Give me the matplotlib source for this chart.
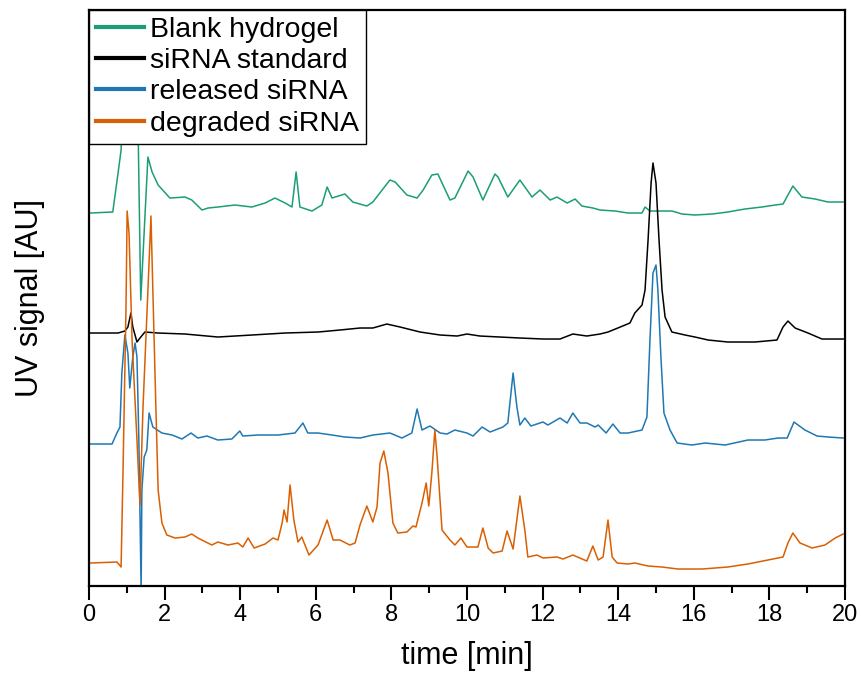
import matplotlib

matplotlib.use("Agg")
import matplotlib.pyplot as plt
from matplotlib.ticker import MultipleLocator

plt.rcParams["font.family"] = ["Liberation Sans", "DejaVu Sans"]

# Chromatogram traces: time [min] and signal above each
# trace's own baseline (arbitrary units).
blank_t = [0.03, 0.63, 0.77, 0.85, 0.87, 0.93, 1.08, 1.24, 1.30, 1.37, 1.56, 1.67,
           1.83, 2.14, 2.54, 2.72, 2.99, 3.15, 3.41, 3.86, 4.31, 4.66, 4.92, 5.19,
           5.37, 5.48, 5.58, 5.90, 6.16, 6.30, 6.43, 6.77, 6.98, 7.35, 7.51, 7.96,
           8.10, 8.41, 8.68, 8.84, 9.07, 9.23, 9.55, 9.68, 10.03, 10.16, 10.42,
           10.74, 10.82, 11.08, 11.40, 11.72, 11.93, 12.20, 12.38, 12.65, 12.86,
           13.04, 13.33, 13.52, 13.92, 14.26, 14.63, 14.71, 14.84, 15.16, 15.42,
           15.69, 16.03, 16.48, 16.90, 17.35, 17.80, 18.15, 18.36, 18.49, 18.62,
           18.86, 19.21, 19.55, 19.95]
blank_y = [0, 1, 40, 63, 83, 243, 273, 243, 83, -87, 56, 41,
           28, 15, 16, 13, 3, 5, 6, 8, 6, 10, 15, 10,
           6, 41, 6, 2, 8, 26, 15, 19, 11, 7, 11, 33,
           31, 18, 15, 23, 38, 39, 13, 15, 42, 36, 13,
           39, 36, 16, 33, 16, 23, 13, 16, 10, 14,
           7, 5, 3, 2, 0, 0, 6, 2, 2, 2,
           -1, -2, -1, 1, 4, 6, 8, 9, 18, 27,
           16, 14, 11, 11]

std_t = [0.03, 0.77, 0.95, 1.03, 1.11, 1.16, 1.27, 1.35, 1.48, 1.83, 2.54, 3.41,
         4.31, 5.19, 6.06, 6.64, 7.17, 7.51, 7.88, 8.23, 8.76, 9.29, 9.74, 10.00,
         10.34, 10.87, 11.40, 12.01, 12.46, 12.80, 13.17, 13.52, 13.73, 13.99,
         14.31, 14.44, 14.63, 14.71, 14.79, 14.87, 14.92, 15.00, 15.08, 15.16,
         15.24, 15.42, 15.77, 16.03, 16.38, 16.90, 17.62, 18.20, 18.36, 18.49,
         18.68, 19.02, 19.39, 19.95]
std_y = [0, 0, 2, 6, 20, 6, -9, -5, 1, 0, -1, -4,
         -2, 0, 1, 3, 5, 5, 9, 6, 1, -2, -3, -1,
         -3, -4, -5, -6, -6, -1, -3, -1, 1, 5,
         10, 20, 28, 43, 93, 150, 170, 150, 93, 43,
         16, 1, -2, -4, -7, -9, -9, -7, 6, 12,
         5, 0, -6, -6]

rel_t = [0.03, 0.61, 0.74, 0.82, 0.87, 0.95, 1.03, 1.08, 1.16, 1.22, 1.27, 1.32,
         1.38, 1.40, 1.46, 1.53, 1.59, 1.69, 1.93, 2.20, 2.46, 2.70, 2.88, 3.12,
         3.41, 3.78, 3.99, 4.07, 4.47, 5.00, 5.45, 5.66, 5.79, 6.06, 6.43, 6.77,
         7.17, 7.51, 7.96, 8.28, 8.54, 8.68, 8.81, 9.02, 9.29, 9.47, 9.68, 10.00,
         10.16, 10.40, 10.61, 10.95, 11.08, 11.22, 11.32, 11.40, 11.53, 11.69,
         12.01, 12.14, 12.46, 12.65, 12.80, 12.99, 13.17, 13.39, 13.47, 13.68,
         13.86, 14.05, 14.26, 14.63, 14.76, 14.84, 14.92, 15.00, 15.05, 15.13,
         15.21, 15.37, 15.56, 15.95, 16.30, 16.83, 17.43, 17.88, 18.23, 18.47,
         18.65, 18.94, 19.26, 19.55, 19.95]
rel_y = [0, 0, 11, 17, 71, 109, 91, 56, 87, 101, 87, 4,
         -146, -46, -13, -6, 31, 17, 11, 9, 5, 11, 6, 8,
         4, 5, 13, 8, 9, 9, 11, 21, 11, 11, 9, 7,
         6, 9, 11, 6, 11, 35, 14, 18, 11, 10, 14, 11,
         8, 17, 12, 17, 21, 71, 37, 19, 26, 18,
         22, 19, 26, 21, 31, 21, 21, 17, 19, 11,
         20, 11, 11, 14, 27, 104, 171, 179, 154, 87,
         31, 14, 1, -1, 1, -1, 4, 4, 6, 6,
         22, 14, 8, 7, 6]

deg_t = [0.03, 0.74, 0.85, 0.90, 0.98, 1.01, 1.06, 1.14, 1.27, 1.35, 1.43, 1.56,
         1.64, 1.69, 1.77, 1.83, 1.93, 2.06, 2.28, 2.54, 2.72, 2.88, 3.25, 3.41,
         3.68, 3.94, 4.07, 4.21, 4.37, 4.66, 4.87, 5.00, 5.11, 5.16, 5.24, 5.32,
         5.42, 5.53, 5.63, 5.82, 6.06, 6.30, 6.46, 6.64, 6.90, 7.04, 7.17, 7.35,
         7.51, 7.62, 7.70, 7.80, 7.91, 8.04, 8.17, 8.41, 8.57, 8.65, 8.81, 8.92,
         8.99, 9.07, 9.15, 9.21, 9.34, 9.55, 9.68, 9.84, 10.00, 10.29, 10.42,
         10.56, 10.69, 10.93, 11.06, 11.22, 11.40, 11.53, 11.61, 11.85, 12.01,
         12.38, 12.54, 12.80, 13.17, 13.33, 13.47, 13.60, 13.73, 13.84, 13.97,
         14.26, 14.44, 14.79, 15.16, 15.58, 16.22, 16.90, 17.43, 17.96, 18.36,
         18.49, 18.62, 18.81, 19.13, 19.47, 19.74, 19.95]
deg_y = [0, 1, -4, 90, 256, 352, 330, 223, 123, 58, 156, 273,
         347, 273, 156, 73, 40, 28, 25, 26, 29, 25, 18, 21,
         18, 20, 16, 25, 15, 19, 25, 23, 40, 53, 41, 78,
         43, 21, 26, 8, 18, 43, 23, 23, 18, 20, 38, 57,
         41, 56, 100, 112, 90, 40, 30, 31, 37, 36, 60, 80,
         57, 90, 133, 106, 33, 23, 18, 25, 16, 16, 35,
         15, 10, 12, 32, 14, 67, 33, 6, 8, 5,
         6, 4, 8, 2, 17, 3, 6, 43, 6, 0,
         -1, 0, -3, -4, -6, -6, -4, -1, 3, 6,
         20, 30, 20, 15, 18, 25, 29]

labels = ["Blank hydrogel", "siRNA standard", "released siRNA", "degraded siRNA"]
colors = ["#1b9e77", "#000000", "#1f78b4", "#d95f02"]
offsets = [373, 253, 142, 23]  # vertical stacking of the traces

fig = plt.figure(figsize=(8.62, 6.77), dpi=100)
ax = fig.add_axes([0.1032, 0.1344, 0.8771, 0.8508])

series = [(blank_t, blank_y), (std_t, std_y), (rel_t, rel_y), (deg_t, deg_y)]
for (t, y), off, col, lab in zip(series, offsets, colors, labels):
    ax.plot(t, [v + off for v in y], color=col, linewidth=1.1, label=lab)

ax.set_xlim(0, 20)
ax.set_ylim(0, 576)
ax.xaxis.set_major_locator(MultipleLocator(2))
ax.xaxis.set_minor_locator(MultipleLocator(1))
ax.tick_params(axis="x", which="major", direction="out", length=10, width=1.5,
               labelsize=17, pad=3)
ax.tick_params(axis="x", which="minor", direction="out", length=5, width=1.5)
ax.tick_params(axis="y", which="both", left=False, labelleft=False)
for spine in ax.spines.values():
    spine.set_linewidth(1.6)
    spine.set_color("black")

ax.set_xlabel("time [min]", fontsize=22, labelpad=11)
ax.set_ylabel("UV signal [AU]", fontsize=22, labelpad=32)

leg = ax.legend(loc="upper left", fontsize=20.5, frameon=True, fancybox=False,
                borderaxespad=0, borderpad=0.25, labelspacing=0.18,
                handlelength=1.7, handletextpad=0.2, framealpha=1)
leg.get_frame().set_edgecolor("black")
leg.get_frame().set_linewidth(1.0)
for line in leg.get_lines():
    line.set_linewidth(3)

fig.savefig("out.png", dpi=100)
